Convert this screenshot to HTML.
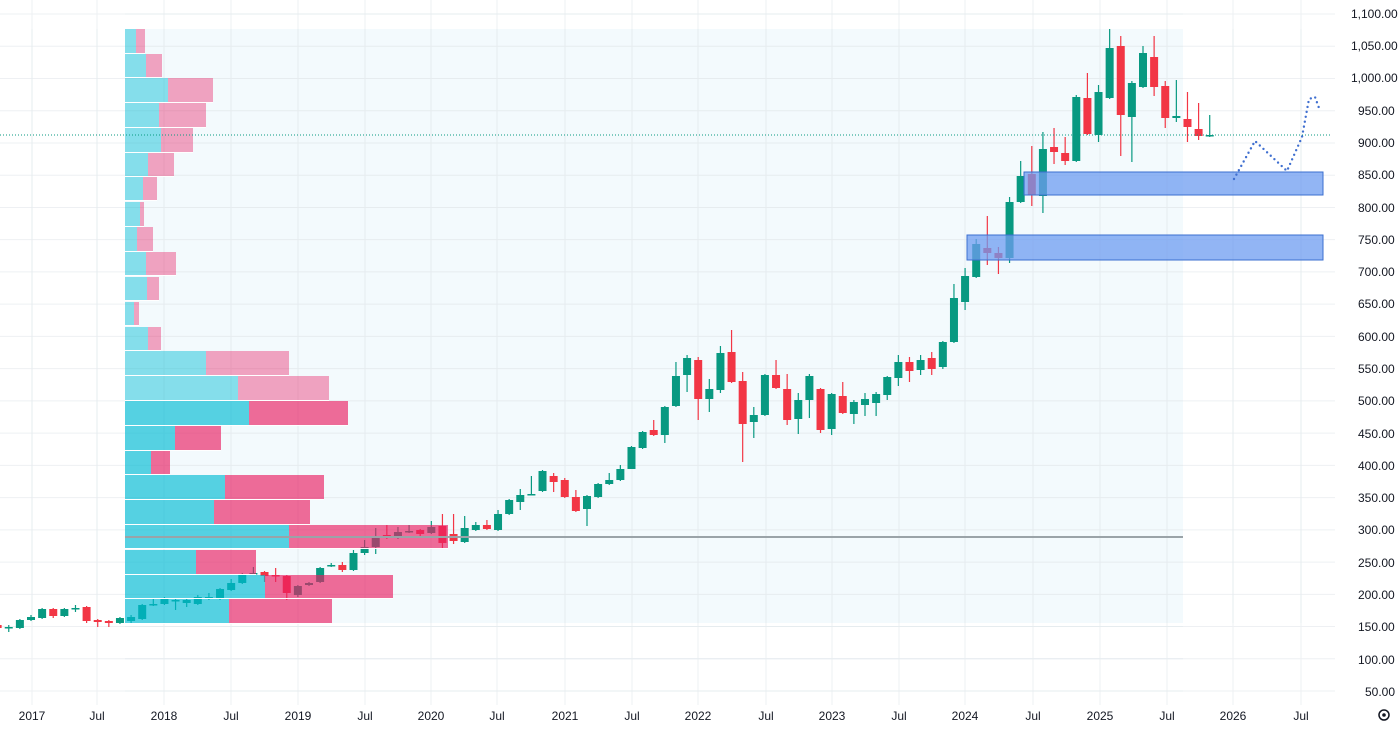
<!DOCTYPE html>
<html><head><meta charset="utf-8"><style>
html,body{margin:0;padding:0;background:#fff;}
body{width:1400px;height:727px;overflow:hidden;font-family:"Liberation Sans",sans-serif;}
svg text{font-family:"Liberation Sans",sans-serif;font-size:12px;fill:#131722;}
</style></head><body>
<svg id="c" width="1400" height="727" xmlns="http://www.w3.org/2000/svg">
<g id="grid"></g>
<rect x="125" y="29" width="1058" height="594" fill="#f3fafd"/>
<g id="grid2"></g>
<g id="cand"></g>
<g id="prof"></g>
<line x1="125" y1="537" x2="1183" y2="537" stroke="#9aa3a8" stroke-width="2"/>
<line x1="0" y1="135" x2="1330" y2="135" stroke="#089981" stroke-width="1" stroke-dasharray="1,2"/>
<rect x="1024" y="172" width="299" height="23" fill="#6d9cf0" fill-opacity="0.75" stroke="#3b6fcf" stroke-width="1"/>
<rect x="967" y="235" width="356" height="25" fill="#6d9cf0" fill-opacity="0.75" stroke="#3b6fcf" stroke-width="1"/>
<polyline points="1234,179 1255,141 1287,171 1302,137 1309,99 1315,97 1319,108" fill="none" stroke="#3f6fd0" stroke-width="2.4" stroke-dasharray="0,5" stroke-linecap="round"/>
<g id="ylab">
<text x="1351" y="18">1,100.00</text><text x="1351" y="50">1,050.00</text><text x="1351" y="82">1,000.00</text>
<text x="1358" y="115">950.00</text><text x="1358" y="147">900.00</text><text x="1358" y="179">850.00</text>
<text x="1358" y="212">800.00</text><text x="1358" y="244">750.00</text><text x="1358" y="276">700.00</text>
<text x="1358" y="308">650.00</text><text x="1358" y="341">600.00</text><text x="1358" y="373">550.00</text>
<text x="1358" y="405">500.00</text><text x="1358" y="438">450.00</text><text x="1358" y="470">400.00</text>
<text x="1358" y="502">350.00</text><text x="1358" y="534">300.00</text><text x="1358" y="567">250.00</text>
<text x="1358" y="599">200.00</text><text x="1358" y="631">150.00</text><text x="1358" y="664">100.00</text>
<text x="1365" y="696">50.00</text>
</g>
<g text-anchor="middle">
<text x="32" y="720">2017</text><text x="97" y="720">Jul</text>
<text x="164" y="720">2018</text><text x="231" y="720">Jul</text>
<text x="298" y="720">2019</text><text x="365" y="720">Jul</text>
<text x="431" y="720">2020</text><text x="497" y="720">Jul</text>
<text x="565" y="720">2021</text><text x="632" y="720">Jul</text>
<text x="698" y="720">2022</text><text x="766" y="720">Jul</text>
<text x="832" y="720">2023</text><text x="899" y="720">Jul</text>
<text x="965" y="720">2024</text><text x="1033" y="720">Jul</text>
<text x="1100" y="720">2025</text><text x="1167" y="720">Jul</text>
<text x="1233" y="720">2026</text><text x="1301" y="720">Jul</text>
</g>
<circle cx="1384" cy="715" r="5" fill="none" stroke="#131722" stroke-width="1.5"/>
<circle cx="1384" cy="715" r="1.8" fill="#131722"/>
</svg>
<script>
var NS="http://www.w3.org/2000/svg";
function el(p,t,a){var e=document.createElementNS(NS,t);for(var k in a)e.setAttribute(k,a[k]);p.appendChild(e);return e;}
var g=document.getElementById('grid'),g2=document.getElementById('grid2');
var xs=[32,97,164,231,298,365,431,497,565,632,698,766,832,899,965,1033,1100,1167,1233,1301];
[g,g2].forEach(function(gg,i){
 for(var v=50;v<=1100;v+=50){var y=14+(1100-v)*0.6448;
  if(i==0)el(gg,'line',{x1:0,x2:1335,y1:y,y2:y,stroke:'#eef0f3','stroke-width':1});
  else el(gg,'line',{x1:125,x2:1183,y1:y,y2:y,stroke:'#e6ecef','stroke-width':1});}
 xs.forEach(function(x){ if(i==0)el(gg,'line',{x1:x,x2:x,y1:0,y2:705,stroke:'#eef0f3'});
  else el(gg,'line',{x1:x,x2:x,y1:29,y2:623,stroke:'#e6ecef'});});
});
var C=[[-3,625,628,624,630],[-2,628,627,625,632],[-1,628,620,619,629],[0,620,617,615,621],[1,618,609,608,619],[2,609,616,608,618],[3,616,609,608,617],[4,608,608,605,612],[5,607,621,606,623],[6,620,622,619,627],[7,621,623,620,627],[8,623,618,617,624],[9,621,617,615,624],[10,619,605,604,620],[11,605,604,598,606],[12,604,598,597,605],[13,600,600,598,610],[14,603,600,599,607],[15,604,597,595,605],[16,597,597,593,600],[17,599,589,588,600],[18,590,583,579,591],[19,583,574,573,584],[20,573,573,567,575],[21,572,576,571,582],[22,575,576,568,582],[23,576,593,575,600],[24,595,586,585,597],[25,585,583,582,586],[26,582,568,567,583],[27,566,565,563,567],[28,565,570,562,572],[29,570,553,550,571],[30,553,547,540,555],[31,547,538,528,554],[32,535,538,525,539],[33,538,532,527,539],[34,532,531,525,533],[35,530,534,529,536],[36,533,527,521,534],[37,526,543,514,549],[38,534,541,514,544],[39,542,528,516,543],[40,530,525,522,531],[41,525,529,520,530],[42,530,514,510,531],[43,514,500,499,515],[44,502,495,489,510],[45,494,494,476,495],[46,491,471,470,492],[47,476,482,473,492],[48,480,497,478,498],[49,497,511,490,512],[50,509,496,495,526],[51,497,484,483,498],[52,484,480,473,485],[53,480,469,465,481],[54,469,447,446,469],[55,448,432,431,449],[56,430,435,420,436],[57,435,407,406,443],[58,406,376,362,407],[59,375,358,355,392],[60,360,399,357,420],[61,399,389,379,412],[62,390,353,346,393],[63,352,382,330,383],[64,381,424,372,462],[65,422,415,407,438],[66,415,375,374,416],[67,375,388,360,389],[68,389,420,374,425],[69,419,400,393,434],[70,400,376,374,418],[71,389,430,388,433],[72,429,394,393,435],[73,396,413,382,414],[74,414,402,400,424],[75,405,399,393,416],[76,403,394,392,416],[77,395,377,376,400],[78,378,362,355,386],[79,362,371,357,382],[80,370,360,355,375],[81,358,369,352,375],[82,367,342,341,369],[83,342,298,284,343],[84,302,276,268,310],[85,277,244,239,278],[86,248,253,216,265],[87,253,258,247,274],[88,258,202,197,263],[89,202,176,161,203],[90,174,195,146,206],[91,196,149,132,213],[92,147,152,128,164],[93,153,161,137,165],[94,161,97,95,162],[95,98,134,73,135],[96,135,92,85,142],[97,98,48,29,99],[98,46,115,36,156],[99,117,83,81,162],[100,87,53,46,88],[101,57,87,36,96],[102,86,118,81,128],[103,118,116,80,122],[104,119,127,92,142],[105,129,136,103,140],[106,135,135,115,137]];
var cg=document.getElementById('cand');
C.forEach(function(c){var x=31+c[0]*11.12;var up=c[2]<=c[1];var col=up?'#089981':'#f23645';
 el(cg,'line',{x1:x,x2:x,y1:c[3],y2:c[4],stroke:col,'stroke-width':1.2});
 var t=Math.min(c[1],c[2]),h=Math.max(1.5,Math.abs(c[1]-c[2]));
 el(cg,'rect',{x:x-4,y:t,width:8,height:h,fill:col});});
var P=[[29,53,136,145,0],[54,77,146,162,0],[78,102,168,213,0],[103,127,159,206,0],[128,152,161,193,0],[153,176,148,174,0],[177,200,143,157,0],[202,226,140,144,0],[227,251,137,153,0],[252,275,146,176,0],[277,300,147,159,0],[302,325,134,139,0],[327,350,148,161,0],[351,375,206,289,0],[376,400,238,329,0],[401,425,249,348,1],[426,450,175,221,1],[451,474,151,170,1],[475,499,225,324,1],[500,524,214,310,1],[525,548,289,448,1],[550,574,196,256,1],[575,598,265,393,1],[599,623,229,332,1]];
var pg=document.getElementById('prof');
P.forEach(function(r){var h=r[1]-r[0];var s=r[4];
 el(pg,'rect',{x:125,y:r[0],width:r[2]-125,height:h,fill:s?'rgba(0,188,212,0.65)':'rgba(0,188,212,0.45)'});
 el(pg,'rect',{x:r[2],y:r[0],width:r[3]-r[2],height:h,fill:s?'rgba(233,30,99,0.65)':'rgba(233,30,99,0.4)'});
 el(pg,'line',{x1:125,x2:r[3],y1:r[1]+0.5,y2:r[1]+0.5,stroke:'#ffffff','stroke-width':1});});
</script>
</body></html>
